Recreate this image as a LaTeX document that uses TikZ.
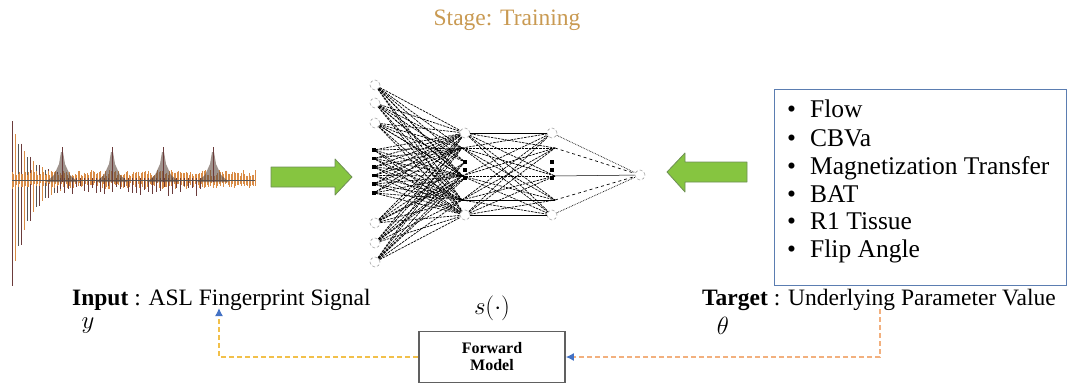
\documentclass[tikz,border=0pt]{standalone}
\usepackage{fontspec}
\setmainfont{Liberation Serif}
\usetikzlibrary{arrows.meta}
\definecolor{stagec}{HTML}{C99A52}
\definecolor{grn}{HTML}{86C540}
\definecolor{grnb}{HTML}{6E8F55}
\definecolor{boxb}{HTML}{5B7DB1}
\definecolor{tipb}{HTML}{4472C4}
\definecolor{ylw}{HTML}{F2C04A}
\definecolor{org}{HTML}{F2B07E}
\definecolor{wDk}{HTML}{6B3B3B}
\definecolor{wOr}{HTML}{D98B45}
\definecolor{wBr}{HTML}{5E4A40}
\definecolor{wGy}{HTML}{555555}
\tikzset{
  neuron/.style={circle, draw=gray!70, densely dashed, line width=0.6pt, minimum size=10pt, inner sep=0pt, fill=white},
  dotsq/.style={rectangle, fill=black, minimum size=3.5pt, inner sep=0pt},
  mesh/.style={draw=black, dash pattern=on 2.5pt off 1pt, line width=0.7pt},
  garrow/.style={fill=grn, draw=grnb, line width=0.8pt, line join=round},
  lbl/.style={font=\fontsize{23.5}{27}\selectfont, inner sep=0pt},
  item/.style={font=\fontsize{25.5}{28}\selectfont, inner sep=0pt, anchor=base west},
  fbL/.style={draw=ylw, dash pattern=on 5pt off 3pt, line width=1.4pt},
  fbR/.style={draw=org, dash pattern=on 5pt off 3pt, line width=1.4pt},
  tip/.style={-{Latex[length=8pt,width=8pt,color=tipb]}},
}
\begin{document}
\begin{tikzpicture}[x=1pt,y=-1pt]
\useasboundingbox (0,0) rectangle (1069,386);

% title
\node[font=\fontsize{23.5}{27}\selectfont, text=stagec, inner sep=0pt, anchor=base] (stage) at (507,25) {Stage: Training};

% ---- signal waveform ----
\pgfmathsetseed{11}
\foreach \x in {12,21,...,60} {
  \pgfmathsetmacro\f{exp(-(\x-12)/17)}
  \draw[wDk, line width=1pt] (\x,{180-55*\f-4}) -- (\x,{180+100*\f+6});
}
\foreach \x in {15,24,...,60} {
  \pgfmathsetmacro\f{exp(-(\x-12)/17)}
  \draw[wOr, line width=1pt] (\x,{180-50*\f-4}) -- (\x,{180+90*\f+6});
}
\foreach \x in {18,27,...,60} {
  \pgfmathsetmacro\f{exp(-(\x-12)/17)}
  \draw[wGy, line width=0.8pt] (\x,{180-45*\f-4}) -- (\x,{180+85*\f+6});
}
\foreach \x in {12,13.5,...,255} {
  \pgfmathsetmacro\a{180-4-6*rnd}
  \pgfmathsetmacro\b{180+3+6*rnd}
  \draw[wOr, line width=0.9pt] (\x,\a) -- (\x,\b);
}
\foreach \x in {60,64,...,200} {
  \pgfmathsetmacro\b{186+10*rnd}
  \draw[wDk, line width=0.7pt] (\x,178) -- (\x,\b);
}
\draw[wGy, line width=0.6pt] (12,180) -- (255,180);
\foreach \c in {62,112,163,213} {
  \fill[wBr, opacity=0.6] (\c-16,182) -- (\c-8,175) -- (\c-3,164) -- (\c-1,152) -- (\c+1,152) -- (\c+3,164) -- (\c+8,175) -- (\c+16,182) -- cycle;
  \draw[wDk, line width=0.8pt] (\c,147) -- (\c,182);
}

% ---- green arrows ----
\draw[garrow] (271,167) -- (335,167) -- (335,159) -- (352,177) -- (335,195) -- (335,187) -- (271,187) -- cycle;
\draw[garrow] (747,162) -- (685,162) -- (685,153) -- (667,172) -- (685,192) -- (685,182) -- (747,182) -- cycle;

% ---- neural network ----
\node[neuron] (i1) at (375,85) {};
\node[neuron] (i2) at (375,103) {};
\node[neuron] (i3) at (375,123) {};
\node[neuron] (i4) at (375,223) {};
\node[neuron] (i5) at (375,243) {};
\node[neuron] (i6) at (375,262) {};
\foreach \y [count=\k] in {150,158.5,167,175.5,184,193}
  \node[dotsq] (id\k) at (374,\y) {};
\node[neuron] (h1a) at (465,133) {};
\node[neuron] (h1b) at (465,215) {};
\foreach \y [count=\k] in {162,170,178}
  \node[dotsq] (hd\k) at (465,\y) {};
\coordinate (m1) at (462,148);
\coordinate (m2) at (462,176);
\coordinate (m3) at (462,200);
\node[neuron] (h2a) at (552,133) {};
\node[neuron] (h2b) at (552,215) {};
\foreach \y [count=\k] in {162,170,178}
  \node[dotsq] (gd\k) at (552,\y) {};
\coordinate (n1) at (555,148);
\coordinate (n2) at (555,176);
\coordinate (n3) at (555,200);
\node[neuron] (out) at (640,175) {};

\foreach \s in {i1,i2,i3,i4,i5,i6}
  \foreach \t in {h1a,m1,hd1,m2,hd3,m3,h1b}
    \draw[mesh] (\s) -- (\t);
\foreach \s in {id1,id2,id3,id4,id5,id6}
  \foreach \t in {h1a,m1,m2,m3,h1b}
    \draw[mesh] (\s) -- (\t);
\draw[line width=1pt] (h1a) -- (h2a);
\draw[line width=1pt] (m3) -- (n3);
\draw[line width=0.7pt] (h1b) -- (h2b);
\foreach \s in {h1a,m1,m2,m3,h1b}
  \foreach \t in {h2a,n1,n2,n3,h2b}
    \draw[mesh] (\s) -- (\t);
\draw[black, densely dotted, line width=0.7pt] (h2a) -- (out);
\draw[black, densely dotted, line width=0.7pt] (h2b) -- (out);
\draw[black, dashed, line width=0.7pt] (n1) -- (out);
\draw[black, dashed, line width=0.7pt] (n3) -- (out);
\draw[black, line width=0.5pt] (n2) -- (out);

% ---- parameter box ----
\node[draw=boxb, line width=1pt, minimum width=292pt, minimum height=196pt, inner sep=0pt] (params) at (920,187) {};
\foreach \y/\t in {117/Flow,146/CBVa,174/Magnetization Transfer,202/BAT,229/R1 Tissue,257/Flip Angle} {
  \node[item] at (787,\y) {\textbullet};
  \node[item] at (810,\y) {\t};
}

% ---- labels ----
\node[lbl, anchor=base west] (inlbl) at (72,305) {\textbf{Input} : ASL Fingerprint Signal};
\node[lbl] (yv) at (88,326) {$y$};
\node[lbl, anchor=base west] (tglbl) at (702,305) {\textbf{Target} : Underlying Parameter Value};
\node[lbl] (th) at (723,326) {$\theta$};
\node[lbl] (sdot) at (492,308) {$s(\cdot)$};

% ---- forward model ----
\node[draw=gray!75!black, line width=1.6pt, minimum width=146pt, minimum height=51pt, inner sep=0pt, align=center, font=\fontsize{16}{17}\selectfont\bfseries] (fm) at (492,357) {Forward\\Model};

\coordinate (tgt) at (880,309);
\coordinate (inp) at (219,308);
\draw[fbR, tip] (tgt) |- (fm.east);
\draw[fbL, tip] (fm.west) -| (inp);
\end{tikzpicture}
\end{document}
